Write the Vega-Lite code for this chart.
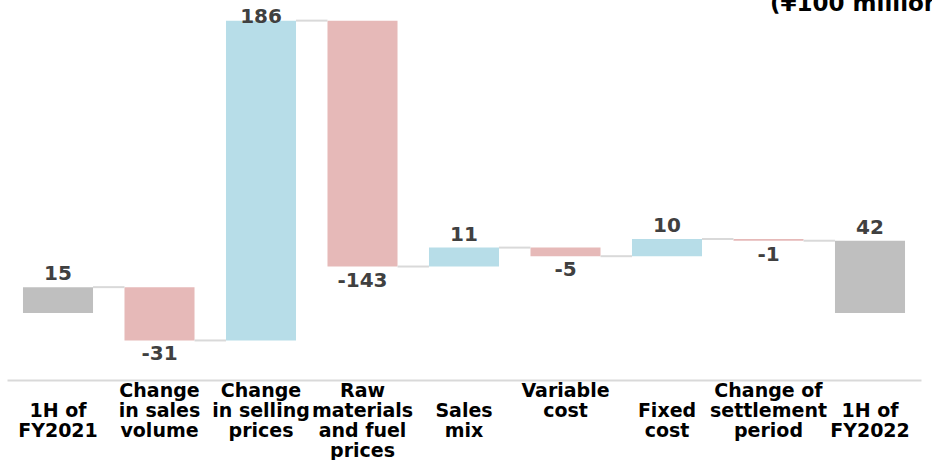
{
  "$schema": "https://vega.github.io/schema/vega-lite/v6.json",
  "width": 914,
  "height": 380,
  "autosize": "none",
  "padding": {"left": 7, "top": 0, "right": 11, "bottom": 80},
  "background": "white",
  "config": {"view": {"stroke": null}, "font": "DejaVu Sans"},
  "title": {
    "text": "(¥100 million)",
    "anchor": "start",
    "orient": "top",
    "frame": "group",
    "dx": 763,
    "dy": 0,
    "offset": -34,
    "baseline": "alphabetic",
    "font": "DejaVu Sans",
    "fontSize": 23,
    "fontWeight": "bold",
    "color": "#000000"
  },
  "data": {
    "values": [
      {"label": "1H of\nFY2021", "next": "Change\nin sales\nvolume", "start": 0, "end": 15, "amount": 15, "kind": "total"},
      {"label": "Change\nin sales\nvolume", "next": "Change\nin selling\nprices", "start": 15, "end": -16, "amount": -31, "kind": "decrease"},
      {"label": "Change\nin selling\nprices", "next": "Raw\nmaterials\nand fuel\nprices", "start": -16, "end": 170, "amount": 186, "kind": "increase"},
      {"label": "Raw\nmaterials\nand fuel\nprices", "next": "Sales\nmix", "start": 170, "end": 27, "amount": -143, "kind": "decrease"},
      {"label": "Sales\nmix", "next": "Variable\ncost", "start": 27, "end": 38, "amount": 11, "kind": "increase"},
      {"label": "Variable\ncost", "next": "Fixed\ncost", "start": 38, "end": 33, "amount": -5, "kind": "decrease"},
      {"label": "Fixed\ncost", "next": "Change of\nsettlement\nperiod", "start": 33, "end": 43, "amount": 10, "kind": "increase"},
      {"label": "Change of\nsettlement\nperiod", "next": "1H of\nFY2022", "start": 43, "end": 42, "amount": -1, "kind": "decrease"},
      {"label": "1H of\nFY2022", "next": null, "start": 0, "end": 42, "amount": 42, "kind": "total"}
    ]
  },
  "encoding": {
    "x": {
      "field": "label",
      "type": "nominal",
      "sort": null,
      "scale": {"paddingInner": 0.31, "paddingOuter": 0.1575},
      "axis": {
        "title": null,
        "labelExpr": "length(split(datum.value, '\\n')) == 2 && datum.value != 'Variable\\ncost' ? split('\\n' + datum.value, '\\n') : split(datum.value, '\\n')",
        "labelAngle": 0,
        "labelBaseline": "top",
        "labelPadding": 1,
        "labelFont": "DejaVu Sans",
        "labelFontSize": 19,
        "labelFontWeight": "bold",
        "labelColor": "#000000",
        "labelLineHeight": 20,
        "labelLimit": 200,
        "labelOverlap": false,
        "ticks": false,
        "domainColor": "#D9D9D9",
        "domainWidth": 2,
        "grid": false
      }
    }
  },
  "layer": [
    {
      "mark": {"type": "bar"},
      "encoding": {
        "y": {"field": "start", "type": "quantitative", "scale": {"domain": [-39, 182], "nice": false, "zero": false}, "axis": null},
        "y2": {"field": "end"},
        "color": {
          "field": "kind",
          "type": "nominal",
          "scale": {"domain": ["total", "increase", "decrease"], "range": ["#BFBFBF", "#B7DDE8", "#E6B9B8"]},
          "legend": null
        }
      }
    },
    {
      "transform": [{"filter": "datum.next != null"}],
      "mark": {"type": "rule", "color": "#D9D9D9", "strokeWidth": 2},
      "encoding": {
        "x": {"field": "label", "type": "nominal", "sort": null, "bandPosition": 1},
        "x2": {"field": "next", "bandPosition": 0},
        "y": {"field": "end", "type": "quantitative"}
      }
    },
    {
      "transform": [{"filter": "datum.amount >= 0"}],
      "mark": {"type": "text", "baseline": "bottom", "dy": {"expr": "datum.end > 150 ? 6 : -3"}, "fontSize": 20, "fontWeight": "bold", "color": "#404040", "font": "DejaVu Sans"},
      "encoding": {
        "y": {"field": "end", "type": "quantitative"},
        "text": {"field": "amount", "type": "nominal"}
      }
    },
    {
      "transform": [{"filter": "datum.amount < 0"}],
      "mark": {"type": "text", "baseline": "top", "dy": 4, "fontSize": 20, "fontWeight": "bold", "color": "#404040", "font": "DejaVu Sans"},
      "encoding": {
        "y": {"field": "end", "type": "quantitative"},
        "text": {"field": "amount", "type": "nominal"}
      }
    }
  ]
}
